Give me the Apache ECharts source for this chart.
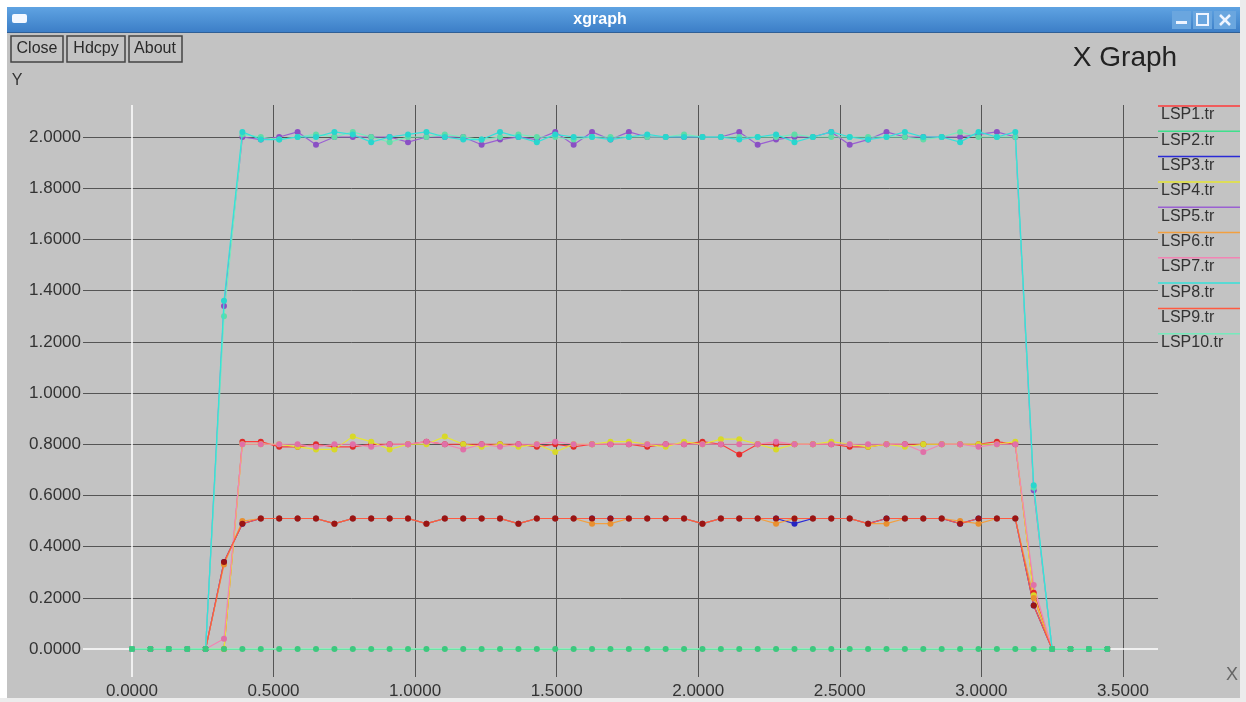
<!DOCTYPE html>
<html>
<head>
<meta charset="utf-8">
<title>xgraph</title>
<script src="https://cdn.jsdelivr.net/npm/echarts@6.0.0/dist/echarts.min.js"></script>
<style>
  html, body { margin: 0; padding: 0; background: #ffffff; }
  #xgraph { width: 1246px; height: 702px; }
</style>
</head>
<body>
<div id="xgraph"></div>
<script>
// sample positions (x) shared by all traces
var xValues = [
  0.000, 0.065, 0.130, 0.195, 0.260, 0.325, 0.390, 0.455, 0.520, 0.585,
  0.650, 0.715, 0.780, 0.845, 0.910, 0.975, 1.040, 1.105, 1.170, 1.235,
  1.300, 1.365, 1.430, 1.495, 1.560, 1.625, 1.690, 1.755, 1.820, 1.885,
  1.950, 2.015, 2.080, 2.145, 2.210, 2.275, 2.340, 2.405, 2.470, 2.535,
  2.600, 2.665, 2.730, 2.795, 2.860, 2.925, 2.990, 3.055, 3.120, 3.185,
  3.250, 3.315, 3.380, 3.445
];

var lsp1 = [
  0, 0, 0, 0, 0, 0, 0.81, 0.81, 0.79, 0.79,
  0.80, 0.79, 0.79, 0.80, 0.80, 0.80, 0.81, 0.80, 0.80, 0.80,
  0.80, 0.80, 0.79, 0.80, 0.79, 0.80, 0.80, 0.80, 0.79, 0.80,
  0.80, 0.81, 0.80, 0.76, 0.80, 0.80, 0.80, 0.80, 0.80, 0.79,
  0.79, 0.80, 0.80, 0.80, 0.80, 0.80, 0.80, 0.81, 0.80, 0.22,
  0, 0, 0, 0
];
var lsp2 = [
  0, 0, 0, 0, 0, 0, 0, 0, 0, 0,
  0, 0, 0, 0, 0, 0, 0, 0, 0, 0,
  0, 0, 0, 0, 0, 0, 0, 0, 0, 0,
  0, 0, 0, 0, 0, 0, 0, 0, 0, 0,
  0, 0, 0, 0, 0, 0, 0, 0, 0, 0,
  0, 0, 0, 0
];
var lsp3 = [
  0, 0, 0, 0, 0, 0.34, 0.49, 0.51, 0.51, 0.51,
  0.51, 0.49, 0.51, 0.51, 0.51, 0.51, 0.49, 0.51, 0.51, 0.51,
  0.51, 0.49, 0.51, 0.51, 0.51, 0.51, 0.51, 0.51, 0.51, 0.51,
  0.51, 0.49, 0.51, 0.51, 0.51, 0.51, 0.49, 0.51, 0.51, 0.51,
  0.49, 0.51, 0.51, 0.51, 0.51, 0.49, 0.51, 0.51, 0.51, 0.17,
  0, 0, 0, 0
];
var lsp4 = [
  0, 0, 0, 0, 0, 0, 0.80, 0.80, 0.80, 0.79,
  0.78, 0.78, 0.83, 0.81, 0.78, 0.80, 0.80, 0.83, 0.80, 0.79,
  0.80, 0.79, 0.80, 0.77, 0.80, 0.80, 0.81, 0.81, 0.80, 0.79,
  0.81, 0.80, 0.82, 0.82, 0.80, 0.78, 0.80, 0.80, 0.81, 0.80,
  0.79, 0.80, 0.79, 0.80, 0.80, 0.80, 0.80, 0.80, 0.81, 0.21,
  0, 0, 0, 0
];
var lsp5 = [
  0, 0, 0, 0, 0, 1.34, 2.00, 1.99, 2.00, 2.02,
  1.97, 2.00, 2.00, 2.00, 2.00, 1.98, 2.00, 2.00, 2.00, 1.97,
  1.99, 2.00, 1.99, 2.02, 1.97, 2.02, 1.99, 2.02, 2.00, 2.00,
  2.00, 2.00, 2.00, 2.02, 1.97, 1.99, 2.00, 2.00, 2.02, 1.97,
  1.99, 2.02, 2.00, 2.00, 2.00, 2.00, 2.01, 2.02, 2.00, 0.62,
  0, 0, 0, 0
];
var lsp6 = [
  0, 0, 0, 0, 0, 0.33, 0.50, 0.51, 0.51, 0.51,
  0.51, 0.49, 0.51, 0.51, 0.51, 0.51, 0.49, 0.51, 0.51, 0.51,
  0.51, 0.49, 0.51, 0.51, 0.51, 0.49, 0.49, 0.51, 0.51, 0.51,
  0.51, 0.49, 0.51, 0.51, 0.51, 0.49, 0.51, 0.51, 0.51, 0.51,
  0.49, 0.49, 0.51, 0.51, 0.51, 0.50, 0.49, 0.51, 0.51, 0.20,
  0, 0, 0, 0
];
var lsp7 = [
  0, 0, 0, 0, 0, 0.04, 0.80, 0.80, 0.80, 0.80,
  0.79, 0.80, 0.80, 0.79, 0.80, 0.80, 0.81, 0.80, 0.78, 0.80,
  0.79, 0.80, 0.80, 0.81, 0.80, 0.80, 0.80, 0.80, 0.80, 0.80,
  0.80, 0.80, 0.80, 0.80, 0.80, 0.81, 0.80, 0.80, 0.80, 0.80,
  0.80, 0.80, 0.80, 0.77, 0.80, 0.80, 0.79, 0.80, 0.80, 0.25,
  0, 0, 0, 0
];
var lsp8 = [
  0, 0, 0, 0, 0, 1.36, 2.02, 1.99, 1.99, 2.00,
  2.00, 2.02, 2.01, 1.98, 2.00, 2.01, 2.02, 2.00, 1.99, 1.99,
  2.02, 2.00, 1.98, 2.01, 2.00, 2.00, 1.99, 2.00, 2.01, 2.00,
  2.00, 2.00, 2.00, 1.99, 2.00, 2.01, 1.98, 2.00, 2.02, 2.00,
  1.99, 2.00, 2.02, 2.00, 2.00, 1.98, 2.02, 2.00, 2.02, 0.64,
  0, 0, 0, 0
];
var lsp9 = [
  0, 0, 0, 0, 0, 0.34, 0.49, 0.51, 0.51, 0.51,
  0.51, 0.49, 0.51, 0.51, 0.51, 0.51, 0.49, 0.51, 0.51, 0.51,
  0.51, 0.49, 0.51, 0.51, 0.51, 0.51, 0.51, 0.51, 0.51, 0.51,
  0.51, 0.49, 0.51, 0.51, 0.51, 0.51, 0.51, 0.51, 0.51, 0.51,
  0.49, 0.51, 0.51, 0.51, 0.51, 0.49, 0.51, 0.51, 0.51, 0.17,
  0, 0, 0, 0
];
var lsp10 = [
  0, 0, 0, 0, 0, 1.30, 2.01, 2.00, 1.99, 2.00,
  2.01, 2.00, 2.02, 2.00, 1.98, 2.00, 2.00, 2.01, 2.00, 1.99,
  2.00, 2.01, 2.00, 2.00, 1.99, 2.00, 2.00, 2.00, 2.00, 2.00,
  2.01, 2.00, 2.00, 2.00, 2.00, 2.00, 2.01, 2.00, 2.00, 2.00,
  2.00, 2.00, 2.00, 1.99, 2.00, 2.02, 2.00, 2.00, 2.00, 0.63,
  0, 0, 0, 0
];

var seriesNames = ['LSP1.tr', 'LSP2.tr', 'LSP3.tr', 'LSP4.tr', 'LSP5.tr',
                   'LSP6.tr', 'LSP7.tr', 'LSP8.tr', 'LSP9.tr', 'LSP10.tr'];
var seriesValues = [lsp1, lsp2, lsp3, lsp4, lsp5, lsp6, lsp7, lsp8, lsp9, lsp10];

var xTicks = [0, 0.5, 1.0, 1.5, 2.0, 2.5, 3.0, 3.5];
var yTicks = [0, 0.2, 0.4, 0.6, 0.8, 1.0, 1.2, 1.4, 1.6, 1.8, 2.0];

// styling
var lineColors = ['#ff3a3a', '#3ee08c', '#2a2ad6', '#e6e634', '#9a60d2',
                  '#f2a040', '#f284b4', '#34e2da', '#ff5a40', '#76eabc'];
var markColors = ['#e02a2a', '#3cc87e', '#2424c0', '#d8d828', '#8a50c4',
                  '#e89030', '#e070a8', '#28d6ce', '#9a1414', '#60dca8'];
var FONT = '"Liberation Sans", Arial, sans-serif';

var chart = echarts.init(document.getElementById('xgraph'));

var series = [{
  // white zero axes, under every trace
  type: 'line',
  data: [],
  silent: true,
  z: 1,
  markLine: {
    silent: true,
    symbol: 'none',
    label: { show: false },
    lineStyle: { color: '#ffffff', width: 1.5, type: 'solid' },
    emphasis: { disabled: true },
    data: [{ xAxis: 0 }, { yAxis: 0 }]
  }
}];

seriesNames.forEach(function (name, k) {
  var z = 2;
  if (name === 'LSP8.tr') z = 4;
  if (name === 'LSP2.tr') z = 5;
  series.push({
    name: name,
    type: 'line',
    z: z,
    data: xValues.map(function (x, i) { return [x, seriesValues[k][i]]; }),
    symbol: 'circle',
    symbolSize: 6,
    showAllSymbol: true,
    lineStyle: { color: lineColors[k], width: 1.2 },
    itemStyle: { color: markColors[k], borderWidth: 0 }
  });
});

// window chrome + legend
var graphic = [
  { type: 'rect', shape: { x: 0, y: 0, width: 1246, height: 7 }, style: { fill: '#ffffff' } },
  { type: 'rect', shape: { x: 0, y: 0, width: 7, height: 702 }, style: { fill: '#ffffff' } },
  { type: 'rect', shape: { x: 1240, y: 0, width: 6, height: 702 }, style: { fill: '#ececec' } },
  { type: 'rect', shape: { x: 0, y: 698, width: 1246, height: 4 }, style: { fill: '#ececec' } },
  {
    type: 'rect', shape: { x: 7, y: 7, width: 1233, height: 26 },
    style: {
      fill: new echarts.graphic.LinearGradient(0, 0, 0, 1, [
        { offset: 0, color: '#5fa3e2' }, { offset: 1, color: '#3b7dc6' }
      ])
    }
  },
  { type: 'rect', shape: { x: 7, y: 32, width: 1233, height: 1 }, style: { fill: '#2f5f96' } },
  { type: 'rect', shape: { x: 12, y: 14, width: 15, height: 9, r: 2 }, style: { fill: '#f4f8ff' } },
  {
    type: 'text', x: 600, y: 20,
    style: { text: 'xgraph', fill: '#ffffff', font: 'bold 16px ' + FONT, align: 'center', verticalAlign: 'middle' }
  },
  // title bar buttons
  { type: 'rect', shape: { x: 1172, y: 11, width: 19, height: 18 }, style: { fill: '#6aa6df' } },
  { type: 'rect', shape: { x: 1193, y: 11, width: 19, height: 18 }, style: { fill: '#6aa6df' } },
  { type: 'rect', shape: { x: 1214, y: 11, width: 22, height: 18 }, style: { fill: '#6aa6df' } },
  { type: 'rect', shape: { x: 1176, y: 21, width: 11, height: 3 }, style: { fill: '#eef4ff' } },
  { type: 'rect', shape: { x: 1197, y: 14, width: 11, height: 11 }, style: { fill: 'none', stroke: '#eef4ff', lineWidth: 2 } },
  { type: 'line', shape: { x1: 1220, y1: 15, x2: 1230, y2: 25 }, style: { stroke: '#eef4ff', lineWidth: 2.5 } },
  { type: 'line', shape: { x1: 1230, y1: 15, x2: 1220, y2: 25 }, style: { stroke: '#eef4ff', lineWidth: 2.5 } },
  // Close / Hdcpy / About
  { type: 'rect', shape: { x: 11, y: 36, width: 52, height: 26 }, style: { fill: 'none', stroke: '#444444', lineWidth: 1.5 } },
  { type: 'rect', shape: { x: 67, y: 36, width: 58, height: 26 }, style: { fill: 'none', stroke: '#444444', lineWidth: 1.5 } },
  { type: 'rect', shape: { x: 129, y: 36, width: 53, height: 26 }, style: { fill: 'none', stroke: '#444444', lineWidth: 1.5 } },
  { type: 'text', x: 37, y: 49, style: { text: 'Close', fill: '#2a2a2a', font: '16px ' + FONT, align: 'center', verticalAlign: 'middle' } },
  { type: 'text', x: 96, y: 49, style: { text: 'Hdcpy', fill: '#2a2a2a', font: '16px ' + FONT, align: 'center', verticalAlign: 'middle' } },
  { type: 'text', x: 155, y: 49, style: { text: 'About', fill: '#2a2a2a', font: '16px ' + FONT, align: 'center', verticalAlign: 'middle' } },
  // title and axis names
  { type: 'text', x: 1125, y: 58, style: { text: 'X Graph', fill: '#222222', font: '28px ' + FONT, align: 'center', verticalAlign: 'middle' } },
  { type: 'text', x: 17, y: 81, style: { text: 'Y', fill: '#333333', font: '16px ' + FONT, align: 'center', verticalAlign: 'middle' } },
  { type: 'text', x: 1232, y: 675, style: { text: 'X', fill: '#666666', font: '18px ' + FONT, align: 'center', verticalAlign: 'middle' } }
];

seriesNames.forEach(function (name, k) {
  var yc = 115 + 25.3 * k;
  graphic.push({ type: 'line', shape: { x1: 1158, y1: yc - 9, x2: 1240, y2: yc - 9 }, style: { stroke: lineColors[k], lineWidth: 1.5 } });
  graphic.push({ type: 'text', x: 1161, y: yc, style: { text: name, fill: '#333333', font: '16px ' + FONT, verticalAlign: 'middle' } });
});

chart.setOption({
  animation: false,
  backgroundColor: '#c3c3c3',
  grid: { left: 83, right: 88, top: 105, bottom: 25, containLabel: false },
  xAxis: {
    type: 'value',
    min: -0.173,
    max: 3.624,
    axisLine: { show: false },
    axisTick: { show: false, customValues: xTicks.slice(1) },
    axisLabel: {
      customValues: xTicks,
      margin: 6,
      color: '#333333',
      fontFamily: '"Liberation Sans", Arial, sans-serif',
      fontSize: 17,
      formatter: function (v) { return v.toFixed(4); }
    },
    splitLine: { show: true, lineStyle: { color: '#555555', width: 1 } }
  },
  yAxis: {
    type: 'value',
    min: -0.109,
    max: 2.125,
    axisLine: { show: false },
    axisTick: { show: false, customValues: yTicks.slice(1) },
    axisLabel: {
      customValues: yTicks,
      margin: 2,
      color: '#333333',
      fontFamily: '"Liberation Sans", Arial, sans-serif',
      fontSize: 17,
      formatter: function (v) { return v.toFixed(4); }
    },
    splitLine: { show: true, lineStyle: { color: '#555555', width: 1 } }
  },
  graphic: graphic,
  series: series
});
</script>
</body>
</html>
